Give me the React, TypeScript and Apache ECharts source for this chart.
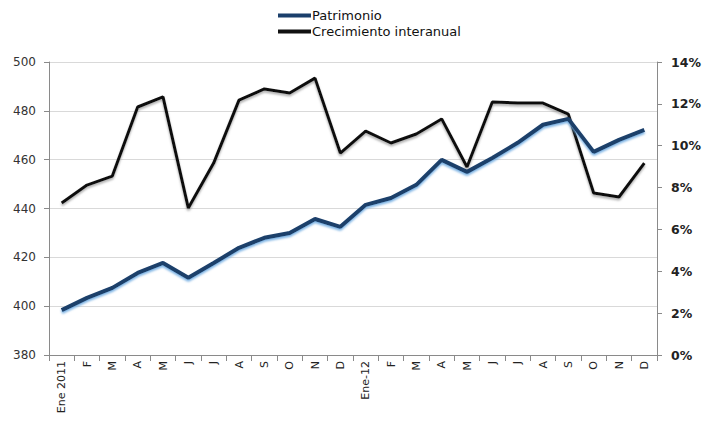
import React, { useEffect, useRef } from "react";
import * as echarts from "echarts";

const categories = [
  "Ene 2011", "F", "M", "A", "M", "J", "J", "A", "S", "O", "N", "D",
  "Ene-12", "F", "M", "A", "M", "J", "J", "A", "S", "O", "N", "D",
];
const patrimonio = [
  398.4, 403.4, 407.5, 413.6, 417.7, 411.6, 417.7, 423.9, 428.0, 430.0, 435.7, 432.5,
  441.5, 444.3, 449.7, 459.9, 455.0, 460.7, 466.9, 474.3, 476.7, 463.2, 468.1, 472.2,
];
const crecimiento = [
  7.26, 8.12, 8.55, 11.85, 12.33, 7.02, 9.17, 12.18, 12.71, 12.52, 13.23, 9.65,
  10.7, 10.13, 10.56, 11.28, 8.98, 12.09, 12.04, 12.04, 11.51, 7.74, 7.55, 9.17,
];
const leftTicks = { min: 380, max: 500, interval: 20 };
const rightTicks = { min: 0, max: 14, interval: 2 };

const FONT = "DejaVu Sans";

export default function App() {
  const ref = useRef<HTMLDivElement>(null);
  useEffect(() => {
    if (!ref.current) return;
    const chart = echarts.init(ref.current, undefined, { renderer: "svg" });
    chart.setOption({
      animation: false,
      backgroundColor: "#ffffff",
      legend: {
        orient: "vertical",
        left: 278,
        top: 9,
        padding: 0,
        itemGap: 3,
        itemWidth: 33,
        itemHeight: 13,
        textStyle: { fontFamily: FONT, fontSize: 13, color: "#111", padding: [0, 0, 0, -4] },
        data: [
          { name: "Patrimonio", icon: "path://M0,4 L33,4 L33,8 L0,8 Z", itemStyle: { color: "#1b3f6b" } },
          { name: "Crecimiento interanual", icon: "path://M0,4 L33,4 L33,8 L0,8 Z", itemStyle: { color: "#111111" } },
        ],
      },
      grid: { left: 49, right: 51, top: 62, bottom: 70 },
      xAxis: {
        type: "category",
        data: categories,
        boundaryGap: true,
        axisLine: { lineStyle: { color: "#8a8a8a", width: 1 } },
        axisTick: { show: true, length: 6, lineStyle: { color: "#8a8a8a" }, interval: 0 },
        axisLabel: {
          rotate: 90,
          interval: 0,
          fontFamily: FONT,
          fontSize: 11,
          color: "#222",
          margin: 6,
        },
      },
      yAxis: [
        {
          type: "value",
          min: leftTicks.min,
          max: leftTicks.max,
          interval: leftTicks.interval,
          position: "left",
          axisLine: { show: true, lineStyle: { color: "#8a8a8a" } },
          axisTick: { show: true, length: 5, lineStyle: { color: "#8a8a8a" } },
          axisLabel: { fontFamily: FONT, fontSize: 12, color: "#333", margin: 13 },
          splitLine: { show: true, lineStyle: { color: "#d9d9d9", width: 1 } },
        },
        {
          type: "value",
          min: rightTicks.min,
          max: rightTicks.max,
          interval: rightTicks.interval,
          position: "right",
          axisLine: { show: true, lineStyle: { color: "#8a8a8a" } },
          axisTick: { show: true, length: 5, lineStyle: { color: "#8a8a8a" } },
          axisLabel: {
            fontFamily: FONT,
            fontSize: 12.5,
            fontWeight: "bold",
            color: "#222",
            margin: 14,
            formatter: "{value}%",
          },
          splitLine: { show: false },
        },
      ],
      series: [
        {
          name: "Patrimonio",
          type: "line",
          yAxisIndex: 0,
          data: patrimonio,
          symbol: "none",
          lineStyle: {
            color: "#1b3f6b",
            width: 4,
            shadowColor: "rgba(110,170,225,0.9)",
            shadowBlur: 2,
            shadowOffsetY: 2,
          },
          itemStyle: { color: "#1b3f6b" },
          z: 3,
        },
        {
          name: "Crecimiento interanual",
          type: "line",
          yAxisIndex: 1,
          data: crecimiento,
          symbol: "none",
          lineStyle: {
            color: "#111111",
            width: 3,
            shadowColor: "rgba(120,120,120,0.6)",
            shadowBlur: 2,
            shadowOffsetY: 2,
          },
          itemStyle: { color: "#111111" },
          z: 2,
        },
      ],
    });
    return () => chart.dispose();
  }, []);
  return <div ref={ref} style={{ width: 708, height: 425, position: "absolute", left: 0, top: 0 }} />;
}
